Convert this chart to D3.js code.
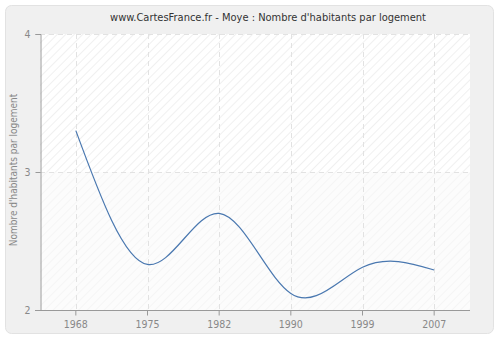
<!DOCTYPE html>
<html>
<head>
<meta charset="utf-8">
<script src="https://cdn.jsdelivr.net/npm/d3@7"></script>
<style>
  body { margin: 0; background: #fff; }
  text { font-family: "DejaVu Sans Condensed", "DejaVu Sans", Verdana, sans-serif; }
</style>
</head>
<body>
<div id="VizBox"></div>
<script>
// data
var years = ["1968", "1975", "1982", "1990", "1999", "2007"];
var values = [3.30, 2.33, 2.70, 2.12, 2.31, 2.29];
var yTicks = [2, 3, 4];

var title = "www.CartesFrance.fr - Moye : Nombre d'habitants par logement";
var yLabel = "Nombre d'habitants par logement";

var W = 500, H = 340;
var margin = {top: 34, right: 30, bottom: 30, left: 40},
    width = W - margin.left - margin.right,
    height = H - margin.top - margin.bottom;

var root = d3.select("#VizBox")
  .append("svg")
    .attr("width", W)
    .attr("height", H);

// hatching for the plot background
var defs = root.append("defs");
var pat = defs.append("pattern")
    .attr("id", "hatch")
    .attr("patternUnits", "userSpaceOnUse")
    .attr("width", 6).attr("height", 6)
    .attr("patternTransform", "rotate(45)");
pat.append("rect").attr("width", 6).attr("height", 6).attr("fill", "#ffffff");
pat.append("line").attr("x1", 0).attr("y1", 0).attr("x2", 0).attr("y2", 6)
    .attr("stroke", "#ebebeb").attr("stroke-width", 1.5);
var pat2 = defs.append("pattern")
    .attr("id", "hatch2")
    .attr("patternUnits", "userSpaceOnUse")
    .attr("width", 6).attr("height", 6)
    .attr("patternTransform", "rotate(45)");
pat2.append("rect").attr("width", 6).attr("height", 6).attr("fill", "#fcfcfc");
pat2.append("line").attr("x1", 0).attr("y1", 0).attr("x2", 0).attr("y2", 6)
    .attr("stroke", "#f3f3f3").attr("stroke-width", 1.5);

// outer frame
root.append("rect")
  .attr("x", 5.5).attr("y", 5.5)
  .attr("width", W - 12).attr("height", H - 12)
  .attr("rx", 6)
  .attr("fill", "#f0f0f0")
  .attr("stroke", "#e2e2e2");

root.append("text")
  .attr("x", 268)
  .attr("y", 21)
  .attr("text-anchor", "middle")
  .attr("font-size", "11px")
  .attr("fill", "#333")
  .text(title);

var svg = root.append("g")
  .attr("transform", "translate(" + margin.left + "," + margin.top + ")");

var x = d3.scaleBand()
  .domain(years)
  .range([0, width]);

var y = d3.scaleLinear()
  .domain([2, 4])
  .range([height, 0]);

// plot background, two shades split at y = 3
svg.append("rect")
  .attr("x", 0).attr("y", 0)
  .attr("width", width).attr("height", y(3))
  .attr("fill", "url(#hatch)");
svg.append("rect")
  .attr("x", 0).attr("y", y(3))
  .attr("width", width).attr("height", height - y(3))
  .attr("fill", "url(#hatch2)");

// grid
svg.selectAll(".vgrid")
  .data(years)
  .enter()
  .append("line")
    .attr("x1", function(d) { return Math.round(x(d) + x.bandwidth() / 2) + 0.5; })
    .attr("x2", function(d) { return Math.round(x(d) + x.bandwidth() / 2) + 0.5; })
    .attr("y1", 0).attr("y2", height)
    .attr("stroke", "#e2e2e2")
    .attr("stroke-dasharray", "5,4");

svg.selectAll(".hgrid")
  .data(yTicks.slice(1))
  .enter()
  .append("line")
    .attr("x1", 0).attr("x2", width)
    .attr("y1", function(d) { return Math.round(y(d)) + 0.5; })
    .attr("y2", function(d) { return Math.round(y(d)) + 0.5; })
    .attr("stroke", "#e2e2e2")
    .attr("stroke-dasharray", "5,4");

// the curve
var line = d3.line()
  .x(function(d, i) { return x(years[i]) + x.bandwidth() / 2; })
  .y(function(d) { return y(d); })
  .curve(d3.curveNatural);

svg.append("path")
  .datum(values)
  .attr("d", line)
  .attr("fill", "none")
  .attr("stroke", "#4a78b0")
  .attr("stroke-width", 1.2);

// axes
var xAxis = svg.append("g")
  .attr("transform", "translate(0," + (height + 0.5) + ")")
  .call(d3.axisBottom(x).tickSizeOuter(0).tickSize(5).tickPadding(5));
xAxis.select(".domain").attr("d", "M-5,0H" + width);

var yAxis = svg.append("g")
  .attr("transform", "translate(0.5,0)")
  .call(d3.axisLeft(y).tickValues(yTicks).tickFormat(d3.format("d")).tickSizeOuter(0).tickSize(5).tickPadding(5));

[xAxis, yAxis].forEach(function(a) {
  a.selectAll(".domain").attr("stroke", "#999");
  a.selectAll(".tick line").attr("stroke", "#999");
  a.selectAll(".tick text")
    .attr("fill", "#888")
    .attr("font-size", "10.5px")
    .style("font-family", "'DejaVu Sans Condensed', 'DejaVu Sans', Verdana, sans-serif");
});

root.append("text")
  .attr("transform", "translate(17,170) rotate(-90)")
  .attr("text-anchor", "middle")
  .attr("font-size", "10px")
  .attr("fill", "#888")
  .text(yLabel);
</script>
</body>
</html>
